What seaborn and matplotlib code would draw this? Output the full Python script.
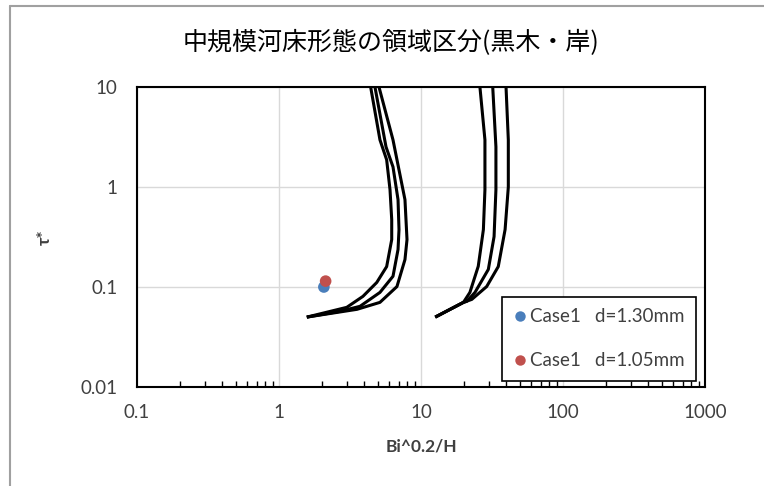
import matplotlib
matplotlib.use("Agg")
import matplotlib.pyplot as plt
import matplotlib.ticker as mticker
from matplotlib.lines import Line2D
import numpy as np
import pandas as pd
import seaborn as sns

# Regime boundary curves (Kuroki & Kishi), left group
left_inner_x = [1.57, 3.0, 3.9, 4.88, 5.73, 6.22, 6.22, 6.05, 5.73, 5.14, 4.42]
left_inner_y = [0.05, 0.0626, 0.0806, 0.111, 0.160, 0.298, 0.472, 0.94, 1.87, 2.96, 10]
left_mid_x = [1.57, 2.69, 3.72, 5.14, 6.35, 6.89, 7.0, 6.89, 6.35, 5.67, 4.74]
left_mid_y = [0.05, 0.0571, 0.0641, 0.0883, 0.128, 0.237, 0.375, 0.747, 1.59, 2.52, 10]
left_outer_x = [1.57, 3.54, 5.14, 6.77, 7.71, 7.97, 7.71, 6.35, 5.06]
left_outer_y = [0.05, 0.0598, 0.0702, 0.101, 0.188, 0.298, 0.747, 2.96, 10]

# Regime boundary curves, right group
right_inner_x = [12.6, 19.9, 22.1, 25.3, 27.5, 28.2, 28.2, 26.0]
right_inner_y = [0.05, 0.0702, 0.0883, 0.161, 0.375, 0.94, 2.96, 10]
right_mid_x = [12.6, 19.9, 21.0, 24.0, 29.8, 32.7, 33.7, 33.7, 32.0]
right_mid_y = [0.05, 0.0702, 0.0718, 0.0883, 0.150, 0.319, 0.94, 2.52, 10]
right_outer_x = [12.6, 19.9, 22.8, 29.0, 35.0, 39.1, 41.2, 41.2, 39.7]
right_outer_y = [0.05, 0.0702, 0.0752, 0.101, 0.160, 0.375, 1.0, 2.96, 10]

# Experimental cases
case_labels = ["Case1\u2002 d=1.30mm", "Case1\u2002 d=1.05mm"]
case_x = [2.07, 2.13]
case_y = [0.100, 0.1145]
case_colors = ["#4A7EBB", "#C0504D"]

x_ticks = [0.1, 1, 10, 100, 1000]
x_tick_labels = ["0.1", "1", "10", "100", "1000"]
y_ticks = [0.01, 0.1, 1, 10]
y_tick_labels = ["0.01", "0.1", "1", "10"]

curves = {
    "L1": (left_inner_x, left_inner_y),
    "L2": (left_mid_x, left_mid_y),
    "L3": (left_outer_x, left_outer_y),
    "R1": (right_inner_x, right_inner_y),
    "R2": (right_mid_x, right_mid_y),
    "R3": (right_outer_x, right_outer_y),
}
rows = []
for name, (xs, ys) in curves.items():
    for i, (xv, yv) in enumerate(zip(xs, ys)):
        rows.append({"curve": name, "order": i, "x": xv, "y": yv})
curve_df = pd.DataFrame(rows)

case_df = pd.DataFrame({"case": case_labels, "x": case_x, "y": case_y})

sns.set_style("white")
plt.rcParams["font.family"] = ["Lato", "Noto Sans CJK JP", "DejaVu Sans"]

TEXT = "#404040"

fig = plt.figure(figsize=(7.64, 4.86), dpi=100)
ax = fig.add_axes([137 / 764, 1 - 387 / 486, 568 / 764, 300 / 486])

ax.set_xscale("log")
ax.set_yscale("log")
ax.set_xlim(0.1, 1000)
ax.set_ylim(0.01, 10)

ax.grid(True, which="major", color="#D9D9D9", linewidth=1.0)
ax.set_axisbelow(True)

for name in curves:
    sub = curve_df[curve_df["curve"] == name]
    sns.lineplot(data=sub, x="x", y="y", sort=False, estimator=None,
                 color="black", linewidth=2.2, ax=ax, legend=False,
                 solid_capstyle="butt")

sns.scatterplot(data=case_df, x="x", y="y", hue="case", palette=case_colors,
                s=70, edgecolor="none", ax=ax, legend=False, zorder=5)

ax.set_xticks(x_ticks)
ax.set_xticklabels(x_tick_labels)
ax.set_yticks(y_ticks)
ax.set_yticklabels(y_tick_labels)
ax.xaxis.set_minor_locator(mticker.LogLocator(base=10, subs=np.arange(2, 10), numticks=20))
ax.xaxis.set_minor_formatter(mticker.NullFormatter())
ax.yaxis.set_minor_locator(mticker.NullLocator())
ax.tick_params(axis="x", which="major", direction="in", length=0, pad=12,
               labelsize=13.5, labelcolor=TEXT)
ax.tick_params(axis="x", which="minor", direction="in", length=4, width=1,
               color="black", bottom=True, top=False)
ax.tick_params(axis="y", which="major", length=0, pad=14, labelsize=13.5,
               labelcolor=TEXT)

for sp in ax.spines.values():
    sp.set_visible(True)
    sp.set_color("black")
    sp.set_linewidth(1.5)

ax.set_xlabel("Bi^0.2/H", fontsize=12.5, fontweight="bold", color=TEXT,
              labelpad=13)
ax.set_ylabel("τ*", fontsize=12.5, fontweight="bold", color=TEXT,
              labelpad=20)

fig.text(391 / 764, 1 - 43 / 486, "中規模河床形態の領域区分(黒木・岸)",
         fontsize=18, family=["Noto Sans CJK JP", "DejaVu Sans"],
         color="black", ha="center", va="center")

handles = [Line2D([0], [0], marker="o", linestyle="none", markersize=7.5,
                  markerfacecolor=c, markeredgecolor="none")
           for c in case_colors]
leg = ax.legend(handles, case_labels, loc="upper left",
                bbox_to_anchor=((502 - 137) / 568, (387 - 297) / 300),
                frameon=True, fancybox=False, fontsize=13.5,
                handletextpad=0.15, handlelength=0.75, borderpad=0.6,
                labelspacing=1.45, borderaxespad=0)
leg.get_frame().set_edgecolor("black")
leg.get_frame().set_linewidth(1.2)
leg.get_frame().set_alpha(1)
for t in leg.get_texts():
    t.set_color(TEXT)

# Outer chart-area frame
fig.add_artist(Line2D([10 / 764, 10 / 764], [0, 1 - 6 / 486], color="#A0A0A0",
                      linewidth=1.5, transform=fig.transFigure))
fig.add_artist(Line2D([10 / 764, 1], [1 - 6 / 486, 1 - 6 / 486], color="#A0A0A0",
                      linewidth=1.5, transform=fig.transFigure))

fig.savefig("out.png", dpi=100, facecolor="white")
